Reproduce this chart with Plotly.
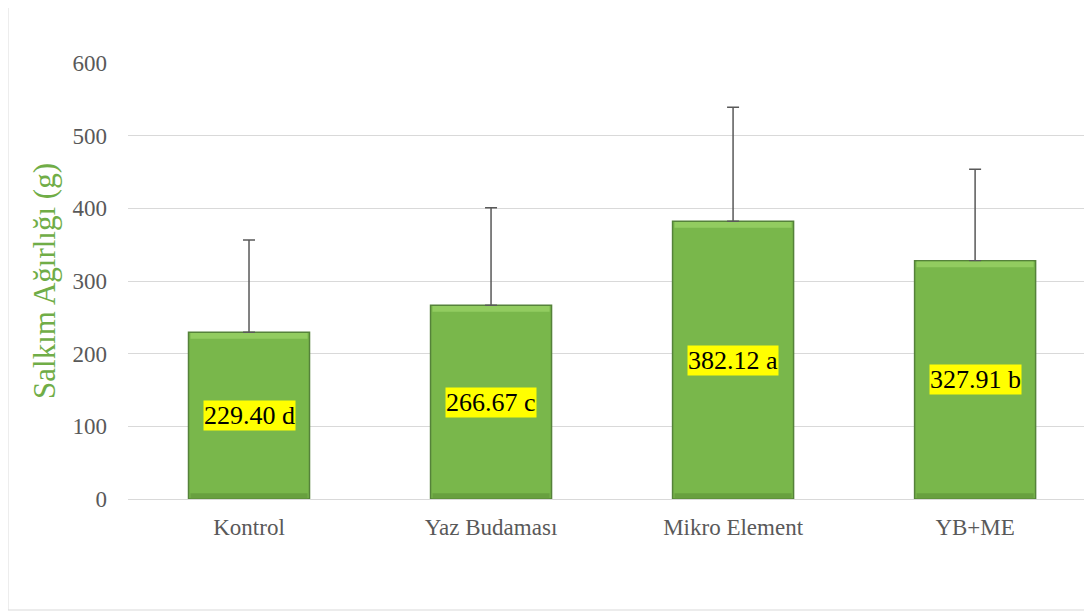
import plotly.graph_objects as go

categories = ["Kontrol", "Yaz Budaması", "Mikro Element", "YB+ME"]
values = [229.40, 266.67, 382.12, 327.91]
letters = ["d", "c", "a", "b"]
errors = [127, 134, 157, 126]
y_ticks = [0, 100, 200, 300, 400, 500, 600]

SERIF = "Times New Roman, Liberation Serif, DejaVu Serif, serif"
BAR_W = 0.5

fig = go.Figure()
fig.add_trace(go.Bar(
    x=categories, y=values, width=BAR_W,
    marker=dict(color="#79B74B", line=dict(color="#55823A", width=1.5)),
    error_y=dict(type="data", symmetric=False, array=errors,
                 arrayminus=[0] * len(errors),
                 color="#595959", thickness=1.5, width=6),
    hoverinfo="skip",
))

# bevel highlights (top lighter, bottom darker) derived from bar values
for i, v in enumerate(values):
    fig.add_shape(type="rect", xref="x", yref="y",
                  x0=i - BAR_W / 2 + 0.008, x1=i + BAR_W / 2 - 0.008,
                  y0=v - 9, y1=v - 1,
                  fillcolor="#92CC60", line=dict(width=0), layer="above")
    fig.add_shape(type="rect", xref="x", yref="y",
                  x0=i - BAR_W / 2 + 0.008, x1=i + BAR_W / 2 - 0.008,
                  y0=1, y1=8,
                  fillcolor="#68A03F", line=dict(width=0), layer="above")

for c, v, l in zip(categories, values, letters):
    fig.add_annotation(x=c, y=v / 2, text=f"{v:.2f} {l}", showarrow=False,
                       bgcolor="#FFFF00", borderpad=0,
                       font=dict(family=SERIF, size=26, color="black"))

fig.add_shape(type="rect", xref="paper", yref="paper",
              x0=-0.1245, x1=1.05, y0=-0.2546, y1=1.14,
              line=dict(color="#D9D9D9", width=1), layer="below")

fig.update_layout(
    width=1084, height=604,
    margin=dict(l=120, r=0, t=55, b=113),
    paper_bgcolor="white", plot_bgcolor="white",
    showlegend=False,
    font=dict(family=SERIF, color="#595959", size=22),
    xaxis=dict(range=[-0.5, 3.483], showgrid=False, showline=False, zeroline=False,
               tickfont=dict(family=SERIF, size=23, color="#595959"),
               ticks="", ticklabelstandoff=12),
    yaxis=dict(range=[0, 600], tickvals=y_ticks, showgrid=True, gridcolor="#D9D9D9",
               gridwidth=1.3, zeroline=True, zerolinecolor="#D9D9D9", zerolinewidth=1.3,
               showline=False, ticks="", ticklabelstandoff=20,
               tickfont=dict(family=SERIF, size=23, color="#595959"),
               title=dict(text="Salkım Ağırlığı (g)", standoff=7,
                          font=dict(size=31, color="#70AD47", family=SERIF))),
)

fig.write_html("out.html")
